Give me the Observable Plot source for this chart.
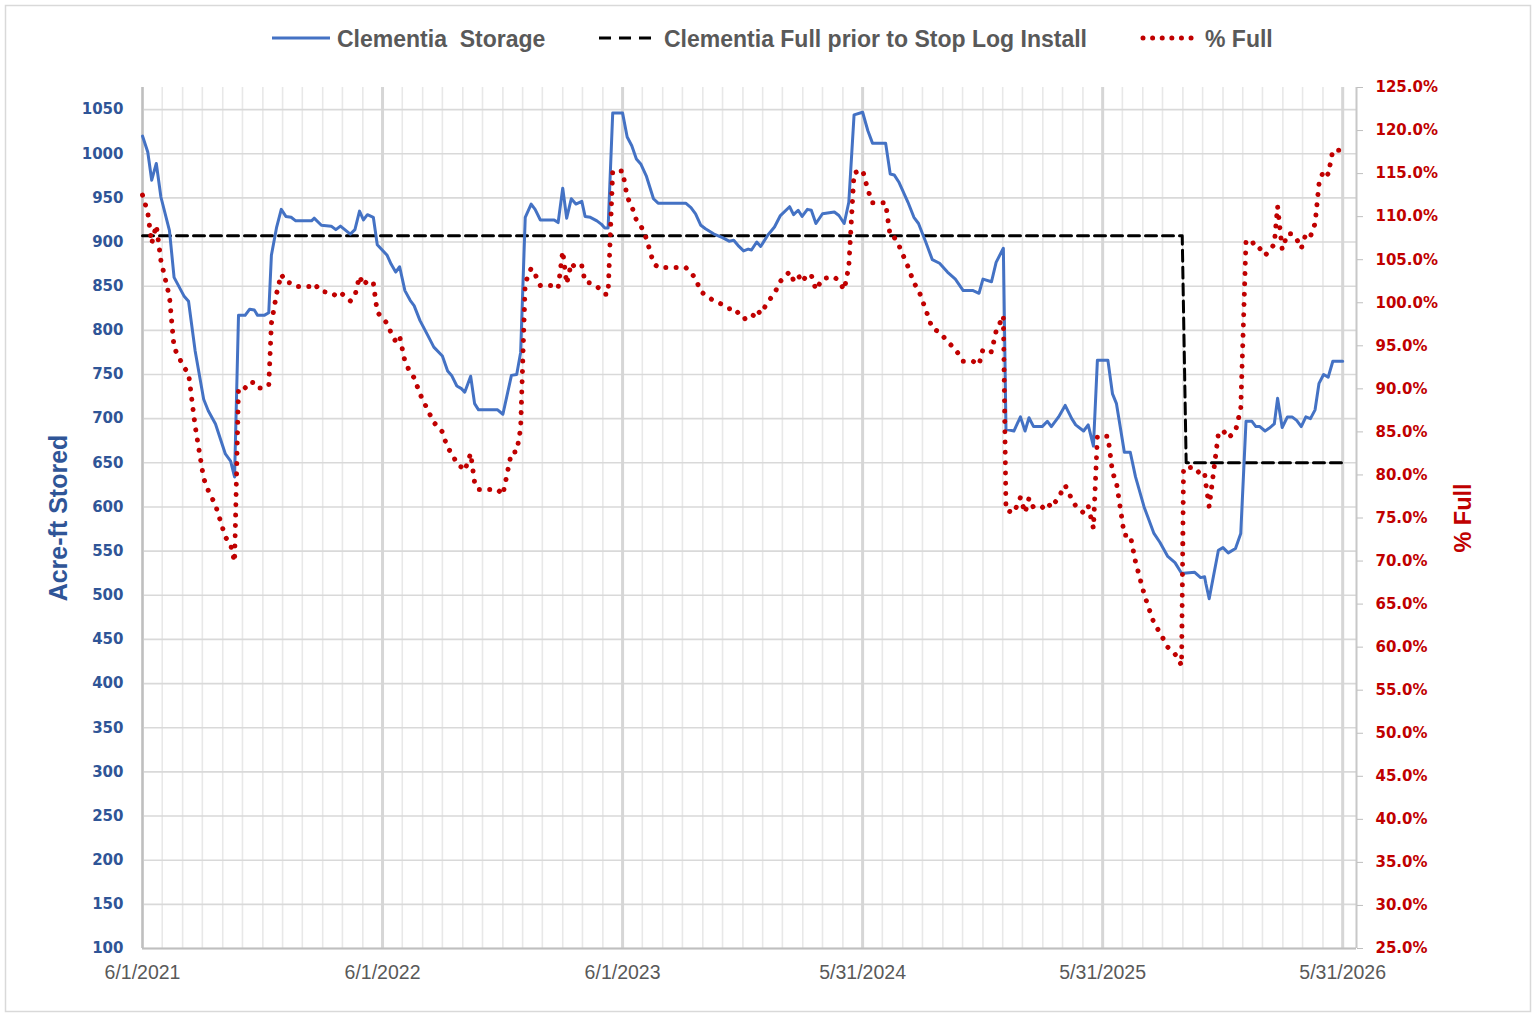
<!DOCTYPE html>
<html><head><meta charset="utf-8">
<script src="https://cdn.jsdelivr.net/npm/d3@7"></script>
<script src="https://cdn.jsdelivr.net/npm/@observablehq/plot@0.6"></script>
<style>
html,body{margin:0;padding:0;background:#fff;}
#page{position:relative;width:1537px;height:1014px;overflow:hidden;font-family:"Liberation Sans",Arial,sans-serif;}
#chart{position:absolute;left:0;top:62px;}
#overlay{position:absolute;left:0;top:0;pointer-events:none;}
</style></head><body>
<div id="page"><div id="chart"></div><svg id="overlay" width="1537" height="1014" xmlns="http://www.w3.org/2000/svg"></svg></div>
<script>
// ---- data ----
const dates = [
"2021-06-01","2021-06-09","2021-06-15","2021-06-22","2021-06-29","2021-07-12","2021-07-19","2021-08-03","2021-08-10","2021-08-20",
"2021-09-02","2021-09-09","2021-09-20","2021-10-05","2021-10-13","2021-10-19","2021-10-25","2021-11-04","2021-11-11","2021-11-18",
"2021-11-23","2021-12-03","2021-12-10","2021-12-14","2021-12-22","2021-12-29","2022-01-05","2022-01-13","2022-01-20","2022-02-13",
"2022-02-17","2022-02-28","2022-03-15","2022-03-22","2022-03-29","2022-04-13","2022-04-20","2022-04-27","2022-05-03","2022-05-09",
"2022-05-18","2022-05-24","2022-06-08","2022-06-14","2022-06-21","2022-06-27","2022-07-05","2022-07-13","2022-07-19","2022-07-28",
"2022-08-09","2022-08-18","2022-08-31","2022-09-08","2022-09-14","2022-09-22","2022-09-29","2022-10-04","2022-10-13","2022-10-19",
"2022-10-25","2022-11-23","2022-12-01","2022-12-14","2022-12-22","2022-12-28","2023-01-04","2023-01-13","2023-01-19","2023-01-27",
"2023-02-17","2023-02-23","2023-03-02","2023-03-08","2023-03-15","2023-03-22","2023-03-31","2023-04-05","2023-04-13","2023-04-23",
"2023-04-30","2023-05-05","2023-05-10","2023-05-17","2023-06-01","2023-06-08","2023-06-15","2023-06-22","2023-06-29","2023-07-07",
"2023-07-18","2023-07-25","2023-09-05","2023-09-13","2023-09-20","2023-09-28","2023-10-05","2023-10-18","2023-10-31","2023-11-10",
"2023-11-17","2023-11-25","2023-12-02","2023-12-09","2023-12-14","2023-12-22","2023-12-28","2024-01-08","2024-01-18","2024-01-27",
"2024-02-10","2024-02-16","2024-02-23","2024-02-29","2024-03-08","2024-03-14","2024-03-21","2024-03-31","2024-04-18","2024-04-25",
"2024-05-03","2024-05-10","2024-05-18","2024-05-31","2024-06-08","2024-06-15","2024-07-05","2024-07-12","2024-07-18","2024-07-25",
"2024-08-08","2024-08-17","2024-08-24","2024-09-04","2024-09-14","2024-09-25","2024-10-07","2024-10-19","2024-10-31","2024-11-15",
"2024-11-24","2024-11-30","2024-12-13","2024-12-20","2024-12-31","2025-01-04","2025-01-16","2025-01-26","2025-02-02","2025-02-08",
"2025-02-15","2025-02-28","2025-03-08","2025-03-14","2025-03-25","2025-04-04","2025-04-14","2025-04-20","2025-05-02","2025-05-09",
"2025-05-17","2025-05-23","2025-06-08","2025-06-15","2025-06-21","2025-07-03","2025-07-12","2025-07-20","2025-08-02","2025-08-08",
"2025-08-17","2025-08-26","2025-09-07","2025-09-18","2025-09-28","2025-10-01","2025-10-18","2025-10-27","2025-11-02","2025-11-04",
"2025-11-09","2025-11-23","2025-11-30","2025-12-08","2025-12-19","2025-12-27","2026-01-04","2026-01-13","2026-01-19","2026-01-25",
"2026-02-02","2026-02-08","2026-02-16","2026-02-21","2026-02-28","2026-03-08","2026-03-15","2026-03-22","2026-03-29","2026-04-05",
"2026-04-12","2026-04-19","2026-04-25","2026-05-02","2026-05-09","2026-05-16","2026-05-31"
];
const storage = [
1020,1002,970,989,951,913,860,839,833,777,
722,709,694,660,652,634,817,817,824,823,
817,817,820,885,917,937,929,928,924,924,
927,919,918,914,918,909,914,935,925,931,
928,897,885,875,866,872,845,834,828,811,
794,781,771,754,749,737,734,730,748,717,
710,710,705,749,750,775,928,943,937,925,
925,922,961,927,949,943,946,929,928,924,
920,916,916,1046,1046,1019,1009,994,988,975,
949,944,944,939,932,919,915,909,905,901,
902,895,890,892,891,900,895,908,917,930,
940,931,936,929,937,936,921,932,934,930,
921,945,1044,1047,1026,1012,1012,977,976,968,
945,928,921,900,880,876,866,858,845,845,
842,858,855,877,893,688,686,702,686,701,
691,691,697,691,702,715,700,693,686,693,
669,766,766,728,717,662,662,634,600,588,
570,560,544,537,525,525,526,520,521,513,
496,551,554,548,553,570,697,697,691,691,
686,689,694,723,690,702,702,698,691,702,
700,710,740,750,747,765,765
];
const pctFull = [
112.5,110.5,106.9,109.0,104.9,100.7,94.8,92.5,91.8,85.7,
79.6,78.2,76.5,72.8,71.9,69.9,90.1,90.1,90.8,90.7,
90.1,90.1,90.4,97.6,101.1,103.3,102.4,102.3,101.9,101.9,
102.2,101.3,101.2,100.8,101.2,100.2,100.8,103.1,102.0,102.6,
102.3,98.9,97.6,96.5,95.5,96.1,93.2,91.9,91.3,89.4,
87.5,86.1,85.0,83.1,82.6,81.3,80.9,80.5,82.5,79.1,
78.3,78.3,77.7,82.6,82.7,85.4,102.3,104.0,103.3,102.0,
102.0,101.7,106.0,102.2,104.6,104.0,104.3,102.4,102.3,101.9,
101.4,101.0,101.0,115.3,115.3,112.3,111.2,109.6,108.9,107.5,
104.6,104.1,104.1,103.5,102.8,101.3,100.9,100.2,99.8,99.3,
99.4,98.7,98.1,98.3,98.2,99.2,98.7,100.1,101.1,102.5,
103.6,102.6,103.2,102.4,103.3,103.2,101.5,102.8,103.0,102.5,
101.5,104.2,115.1,115.4,113.1,111.6,111.6,107.7,107.6,106.7,
104.2,102.3,101.5,99.2,97.0,96.6,95.5,94.6,93.2,93.2,
92.8,94.6,94.3,96.7,98.5,75.9,75.6,77.4,75.6,77.3,
76.2,76.2,76.8,76.2,77.4,78.8,77.2,76.4,75.6,76.4,
73.8,84.5,84.5,80.3,79.1,73.0,73.0,69.9,66.2,64.8,
62.8,61.7,60.0,59.2,57.9,80.8,80.9,80.0,80.2,78.9,
76.3,84.8,85.2,84.3,85.1,87.7,107.2,107.2,106.3,106.3,
105.5,106.0,106.8,111.2,106.2,108.0,108.0,107.4,106.3,108.0,
107.7,109.2,113.8,115.4,114.9,117.7,117.7
];
const fullDates = ["2021-06-01","2025-09-29","2025-10-05","2026-05-31"];
const fullValues = [907,907,650,650];
const leftTicks = [100,150,200,250,300,350,400,450,500,550,600,650,700,750,800,850,900,950,1000,1050];
const rightTicks = [25,30,35,40,45,50,55,60,65,70,75,80,85,90,95,100,105,110,115,120,125];
const xTickDates = ["2021-06-01","2022-06-01","2023-06-01","2024-05-31","2025-05-31","2026-05-31"];
const xTickLabels = ["6/1/2021","6/1/2022","6/1/2023","5/31/2024","5/31/2025","5/31/2026"];
const seriesNames = ["Clementia\u00a0\u00a0Storage","Clementia Full prior to Stop Log Install","% Full"];

// ---- build ----
const parse = d3.utcParse("%Y-%m-%d");
const storageData = dates.map((d,i)=>({date:parse(d), value:storage[i]}));
const pctData = dates.map((d,i)=>({date:parse(d), pct:pctFull[i]}));
const fullData = fullDates.map((d,i)=>({date:parse(d), value:fullValues[i]}));
const y2 = d3.scaleLinear([25,125],[100,1075]);
const xStart = parse("2021-06-01"), xEnd = parse("2026-06-21");
const majorDates = xTickDates.map(parse);
const DAY = 86400000;
const minorDates = d3.range(1,61).map(k => new Date(+xStart + Math.round(k*365/12)*DAY));

const BLUE="#4472C4", AXBLUE="#2F5597", RED="#C00000", GRAY="#595959";

const chart = Plot.plot({
  width:1537, height:952,
  marginLeft:142, marginRight:181, marginTop:25, marginBottom:66,
  style:{background:"transparent", overflow:"visible"},
  x:{type:"utc", domain:[xStart,xEnd]},
  y:{domain:[100,1075]},
  marks:[
    Plot.ruleX(minorDates,{stroke:"#e8e8e8", strokeWidth:1.6}),
    Plot.ruleY(leftTicks,{stroke:"#d9d9d9", strokeWidth:1.6}),
    Plot.ruleX(majorDates,{stroke:"#d6d6d6", strokeWidth:3}),
    Plot.ruleX([xStart],{stroke:"#bfbfbf", strokeWidth:2}),
    Plot.ruleX([xEnd],{stroke:"#c8c8c8", strokeWidth:2}),
    Plot.ruleY([100],{stroke:"#bfbfbf", strokeWidth:2}),
    Plot.axisY({anchor:"left", ticks:leftTicks, tickSize:0, tickPadding:19, fill:AXBLUE,
      fontSize:15, fontWeight:"bold", fontFamily:"DejaVu Sans", label:null, tickFormat:d=>String(d)}),
    Plot.axisY({anchor:"right", ticks:rightTicks.map(y2), tickSize:6, tickPadding:13, stroke:"#bfbfbf", fill:RED,
      fontSize:15, fontWeight:"bold", fontFamily:"DejaVu Sans", label:null,
      tickFormat:v=>y2.invert(v).toFixed(1)+"%"}),
    Plot.axisX({ticks:majorDates, tickSize:0, tickPadding:17, fill:GRAY, fontSize:19.5,
      fontFamily:"Liberation Sans", label:null,
      tickFormat:d=>xTickLabels[majorDates.findIndex(m=>+m===+d)]}),
    Plot.line(fullData,{x:"date", y:"value", stroke:"black", strokeWidth:3, strokeDasharray:"11 6"}),
    Plot.line(storageData,{x:"date", y:"value", stroke:BLUE, strokeWidth:3}),
    Plot.line(pctData,{x:"date", y:d=>y2(d.pct), stroke:RED, strokeWidth:5,
      strokeDasharray:"0.01 10.3", strokeLinecap:"round"})
  ]
});
document.getElementById("chart").appendChild(chart);

// ---- overlay: frame, legend, axis titles ----
const ov = d3.select("#overlay");
ov.append("rect").attr("x",5.5).attr("y",5.5).attr("width",1525).attr("height",1006)
  .attr("fill","none").attr("stroke","#d9d9d9").attr("stroke-width",1.5);
const lg = ov.append("g").attr("font-family","Liberation Sans, Arial, sans-serif")
  .attr("font-size",23).attr("font-weight","bold").attr("fill",GRAY);
lg.append("line").attr("x1",272).attr("x2",330).attr("y1",38).attr("y2",38).attr("stroke",BLUE).attr("stroke-width",3);
lg.append("text").attr("x",337).attr("y",46.5).text(seriesNames[0]);
lg.append("line").attr("x1",599).attr("x2",651).attr("y1",38).attr("y2",38).attr("stroke","black")
  .attr("stroke-width",3).attr("stroke-dasharray","12 8");
lg.append("text").attr("x",664).attr("y",46.5).text(seriesNames[1]);
lg.append("line").attr("x1",1143).attr("x2",1200).attr("y1",38).attr("y2",38).attr("stroke",RED)
  .attr("stroke-width",5).attr("stroke-dasharray","0.01 9.6").attr("stroke-linecap","round");
lg.append("text").attr("x",1205).attr("y",46.5).text(seriesNames[2]);
ov.append("text").attr("transform","translate(67,518) rotate(-90)").attr("text-anchor","middle")
  .attr("font-family","Liberation Sans, Arial, sans-serif").attr("font-weight","bold").attr("font-size",25)
  .attr("fill",AXBLUE).text("Acre-ft Stored");
ov.append("text").attr("transform","translate(1471,518) rotate(-90)").attr("text-anchor","middle")
  .attr("font-family","Liberation Sans, Arial, sans-serif").attr("font-weight","bold").attr("font-size",23.5)
  .attr("fill",RED).text("% Full");
</script>
</body></html>
